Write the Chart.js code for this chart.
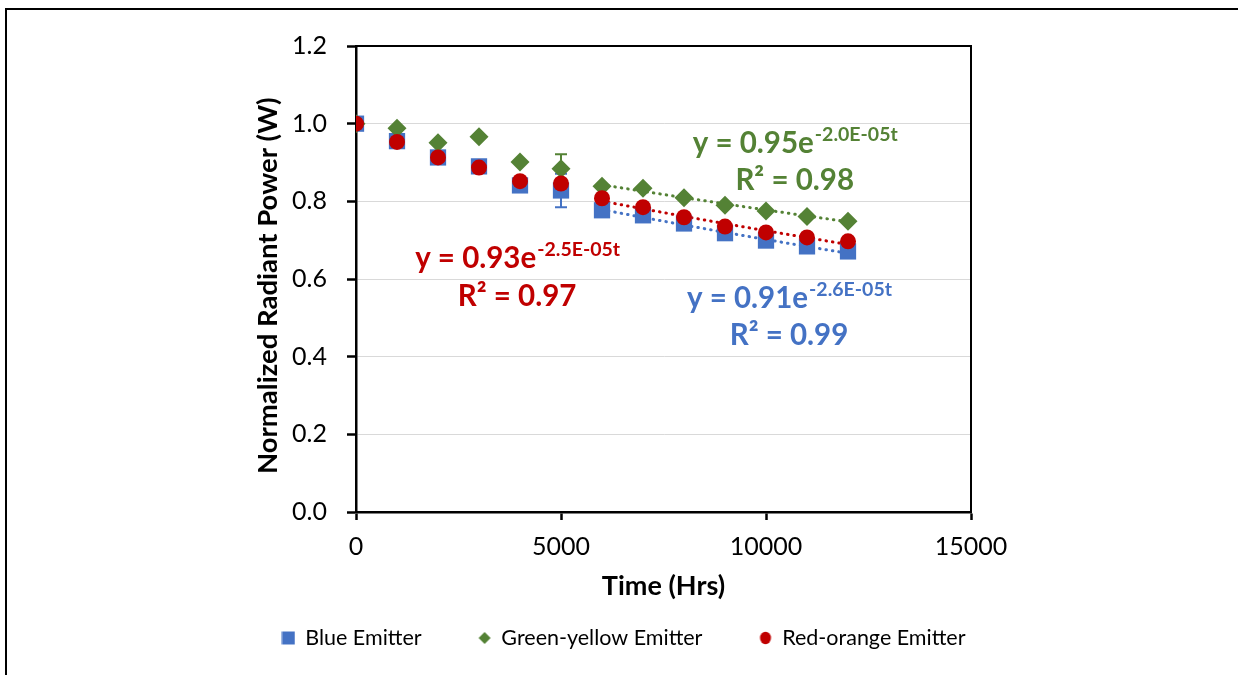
<!DOCTYPE html>
<html>
<head>
<meta charset="utf-8">
<script src="https://cdn.jsdelivr.net/npm/chart.js@4.4.0/dist/chart.umd.min.js"></script>
<style>
  html, body { margin: 0; padding: 0; background: #fff; }
  #wrap { position: relative; width: 1238px; height: 675px; overflow: hidden; }
  #frame {
    position: absolute; left: 5px; top: 8px; width: 1400px; height: 800px;
    border-left: 2px solid #000; border-top: 2px solid #000; pointer-events: none;
  }
</style>
</head>
<body>
<div id="wrap">
  <canvas id="radiantChart" width="1238" height="675"></canvas>
  <div id="frame"></div>
</div>
<script>
// aging test, normalized radiant power per emitter
const hours = [0, 1000, 2000, 3000, 4000, 5000, 6000, 7000, 8000, 9000, 10000, 11000, 12000];
const bluePower  = [1.000, 0.955, 0.913, 0.890, 0.841, 0.828, 0.777, 0.764, 0.743, 0.718, 0.699, 0.684, 0.671];
const greenPower = [1.000, 0.988, 0.951, 0.966, 0.901, 0.884, 0.839, 0.834, 0.809, 0.790, 0.775, 0.761, 0.749];
const redPower   = [1.000, 0.953, 0.913, 0.887, 0.852, 0.846, 0.808, 0.785, 0.759, 0.735, 0.720, 0.707, 0.697];
const blueErr  = [0, 0, 0, 0, 0, 0.043, 0, 0, 0, 0, 0, 0, 0];
const greenErr = [0, 0, 0, 0, 0, 0.037, 0, 0, 0, 0, 0, 0, 0];
const redErr   = [0, 0, 0, 0, 0, 0, 0, 0, 0, 0, 0, 0, 0];

const seriesNames = ['Blue Emitter', 'Green-yellow Emitter', 'Red-orange Emitter'];
const seriesColors = ['#4472C4', '#548235', '#C00000'];

// exponential fits y = a*e^(b*t) over 6000..12000 h
const fitHours = [6000, 7000, 8000, 9000, 10000, 11000, 12000];
const fitCoef = [0.91, 0.95, 0.93];
const fitRate = [-2.6e-5, -2.0e-5, -2.5e-5];
const fitR2 = [0.99, 0.98, 0.97];
// label anchors in data units (x hours, y power)
const eqAnchorX = [10560, 10700, 3930];
const eqAnchorY = [0.550, 0.950, 0.653];
const r2AnchorY = [0.454, 0.854, 0.555];

const xTicks = [0, 5000, 10000, 15000];
const yTicks = [0, 0.2, 0.4, 0.6, 0.8, 1.0, 1.2];

Chart.defaults.font.family = 'Lato, "Open Sans", sans-serif';
Chart.defaults.color = '#000';

const toPoints = (ys) => hours.map((h, i) => ({ x: h, y: ys[i] }));
const fitPoints = (k) => fitHours.map(t => ({ x: t, y: fitCoef[k] * Math.exp(fitRate[k] * t) }));

const marker = (k, data, style, radius, order) => ({
  label: seriesNames[k],
  data: data,
  pointStyle: style,
  pointRadius: radius,
  pointHoverRadius: radius,
  backgroundColor: seriesColors[k],
  borderColor: seriesColors[k],
  borderWidth: 0,
  showLine: false,
  order: order
});

const trend = (k) => ({
  label: 'fit' + k,
  data: fitPoints(k),
  showLine: true,
  pointRadius: 0,
  borderColor: seriesColors[k],
  borderWidth: 3,
  borderDash: [0.5, 6],
  borderCapStyle: 'round',
  fill: false,
  order: 10
});

// small legend symbols, all about the same size
function legendSymbol(k) {
  const c = document.createElement('canvas');
  c.width = 14; c.height = 14;
  const g = c.getContext('2d');
  g.fillStyle = seriesColors[k];
  g.beginPath();
  if (k === 0) {
    g.rect(0.5, 0.5, 13, 13);
  } else if (k === 1) {
    g.moveTo(7, 1); g.lineTo(13, 7); g.lineTo(7, 13); g.lineTo(1, 7); g.closePath();
  } else {
    g.ellipse(7, 7, 5.5, 6.2, 0, 0, Math.PI * 2);
  }
  g.fill();
  return c;
}
const legendSymbols = [0, 1, 2].map(legendSymbol);

function expLabel(rate) {
  const [mant, exp] = rate.toExponential(1).split('e');
  const e = parseInt(exp, 10);
  const sign = e < 0 ? '-' : '+';
  return mant + 'E' + sign + String(Math.abs(e)).padStart(2, '0') + 't';
}

const errorBars = {
  id: 'errorBars',
  afterDatasetDraw(chart, args) {
    const errs = [blueErr, greenErr, redErr][args.index];
    if (!errs) return;
    const { ctx, scales } = chart;
    ctx.save();
    ctx.strokeStyle = seriesColors[args.index];
    ctx.lineWidth = 2;
    args.meta.data.forEach((pt, i) => {
      const e = errs[i];
      if (!e) return;
      const v = chart.data.datasets[args.index].data[i].y;
      const x = pt.x;
      const yTop = scales.y.getPixelForValue(v + e);
      const yBot = scales.y.getPixelForValue(v - e);
      ctx.beginPath();
      ctx.moveTo(x, yTop); ctx.lineTo(x, yBot);
      ctx.moveTo(x - 6, yTop); ctx.lineTo(x + 6, yTop);
      ctx.moveTo(x - 6, yBot); ctx.lineTo(x + 6, yBot);
      ctx.stroke();
    });
    ctx.restore();
  }
};

const fitLabels = {
  id: 'fitLabels',
  afterDatasetsDraw(chart) {
    const { ctx, scales } = chart;
    const mainFont = 'bold 29.5px Lato, sans-serif';
    const supFont = 'bold 19.5px Lato, sans-serif';
    ctx.save();
    for (let k = 0; k < 3; k++) {
      const cx = scales.x.getPixelForValue(eqAnchorX[k]);
      const cy = scales.y.getPixelForValue(eqAnchorY[k]);
      const main = 'y = ' + fitCoef[k].toFixed(2) + 'e';
      const sup = expLabel(fitRate[k]);
      ctx.fillStyle = seriesColors[k];
      ctx.textBaseline = 'alphabetic';
      ctx.textAlign = 'left';
      ctx.font = mainFont;
      const wMain = ctx.measureText(main).width;
      ctx.font = supFont;
      const wSup = ctx.measureText(sup).width;
      const x0 = cx - (wMain + wSup) / 2;
      const base = cy + 10;
      ctx.font = mainFont;
      ctx.fillText(main, x0, base);
      ctx.font = supFont;
      ctx.fillText(sup, x0 + wMain + 1, base - 12);

      ctx.font = mainFont;
      ctx.textAlign = 'center';
      ctx.textBaseline = 'middle';
      const ry = scales.y.getPixelForValue(r2AnchorY[k]);
      ctx.fillText('R\u00B2 = ' + fitR2[k].toFixed(2), cx, ry);
    }
    ctx.restore();
  }
};

new Chart(document.getElementById('radiantChart'), {
  type: 'scatter',
  data: {
    datasets: [
      marker(0, toPoints(bluePower), 'rect', 11.5, 3),
      marker(1, toPoints(greenPower), 'rectRot', 9.5, 2),
      marker(2, toPoints(redPower), 'circle', 8, 1),
      trend(0), trend(1), trend(2)
    ]
  },
  options: {
    responsive: false,
    devicePixelRatio: 1,
    animation: false,
    layout: { padding: { left: 10, right: 0, top: 46, bottom: 16.25 } },
    scales: {
      x: {
        type: 'linear',
        min: 0, max: 15000,
        afterBuildTicks: (axis) => { axis.ticks = xTicks.map(v => ({ value: v })); },
        afterFit: (axis) => { axis.height = 58.25; },
        ticks: { font: { size: 25 }, padding: 12, color: '#000', callback: (v) => String(v) },
        grid: { drawOnChartArea: false, drawTicks: true, tickLength: 8, tickColor: '#000', tickWidth: 2.5 },
        border: { color: '#000', width: 2.5 },
        title: {
          display: true, text: 'Time (Hrs)', color: '#000',
          font: { size: 27, weight: 'bold' },
          padding: { top: 0, bottom: -32 }
        }
      },
      y: {
        type: 'linear',
        min: 0, max: 1.2,
        afterBuildTicks: (axis) => { axis.ticks = yTicks.map(v => ({ value: v })); },
        afterFit: (axis) => { axis.width = 346; },
        ticks: { font: { size: 25 }, padding: 20, color: '#000', callback: (v) => v.toFixed(1) },
        grid: { color: '#d9d9d9', lineWidth: 1, tickLength: 9, tickColor: '#000', tickWidth: 2.5 },
        border: { color: '#000', width: 2.5 },
        title: {
          display: true, text: 'Normalized Radiant Power (W)  ', color: '#000',
          font: { size: 27.5, weight: 'bold' },
          padding: { top: 242, bottom: 0 }
        }
      },
      x2: {
        type: 'linear', position: 'top', min: 0, max: 15000,
        afterFit: (axis) => { axis.height = 0; },
        ticks: { display: false },
        grid: { display: false, drawTicks: false },
        border: { color: '#000', width: 2 }
      },
      y2: {
        type: 'linear', position: 'right', min: 0, max: 1.2,
        afterFit: (axis) => { axis.width = 267; },
        ticks: { display: false },
        grid: { display: false, drawTicks: false },
        border: { color: '#000', width: 2 }
      }
    },
    plugins: {
      tooltip: { enabled: false },
      legend: {
        position: 'bottom',
        labels: {
          usePointStyle: true,
          boxWidth: 12,
          boxHeight: 11,
          padding: 57,
          color: '#000',
          font: { size: 21.5 },
          generateLabels: (chart) => {
            const items = Chart.defaults.plugins.legend.labels.generateLabels(chart);
            items.forEach(it => {
              if (it.datasetIndex < 3) it.pointStyle = legendSymbols[it.datasetIndex];
            });
            return items;
          },
          filter: (item) => item.datasetIndex < 3,
          sort: (a, b) => a.datasetIndex - b.datasetIndex
        }
      }
    }
  },
  plugins: [errorBars, fitLabels]
});
</script>
</body>
</html>
